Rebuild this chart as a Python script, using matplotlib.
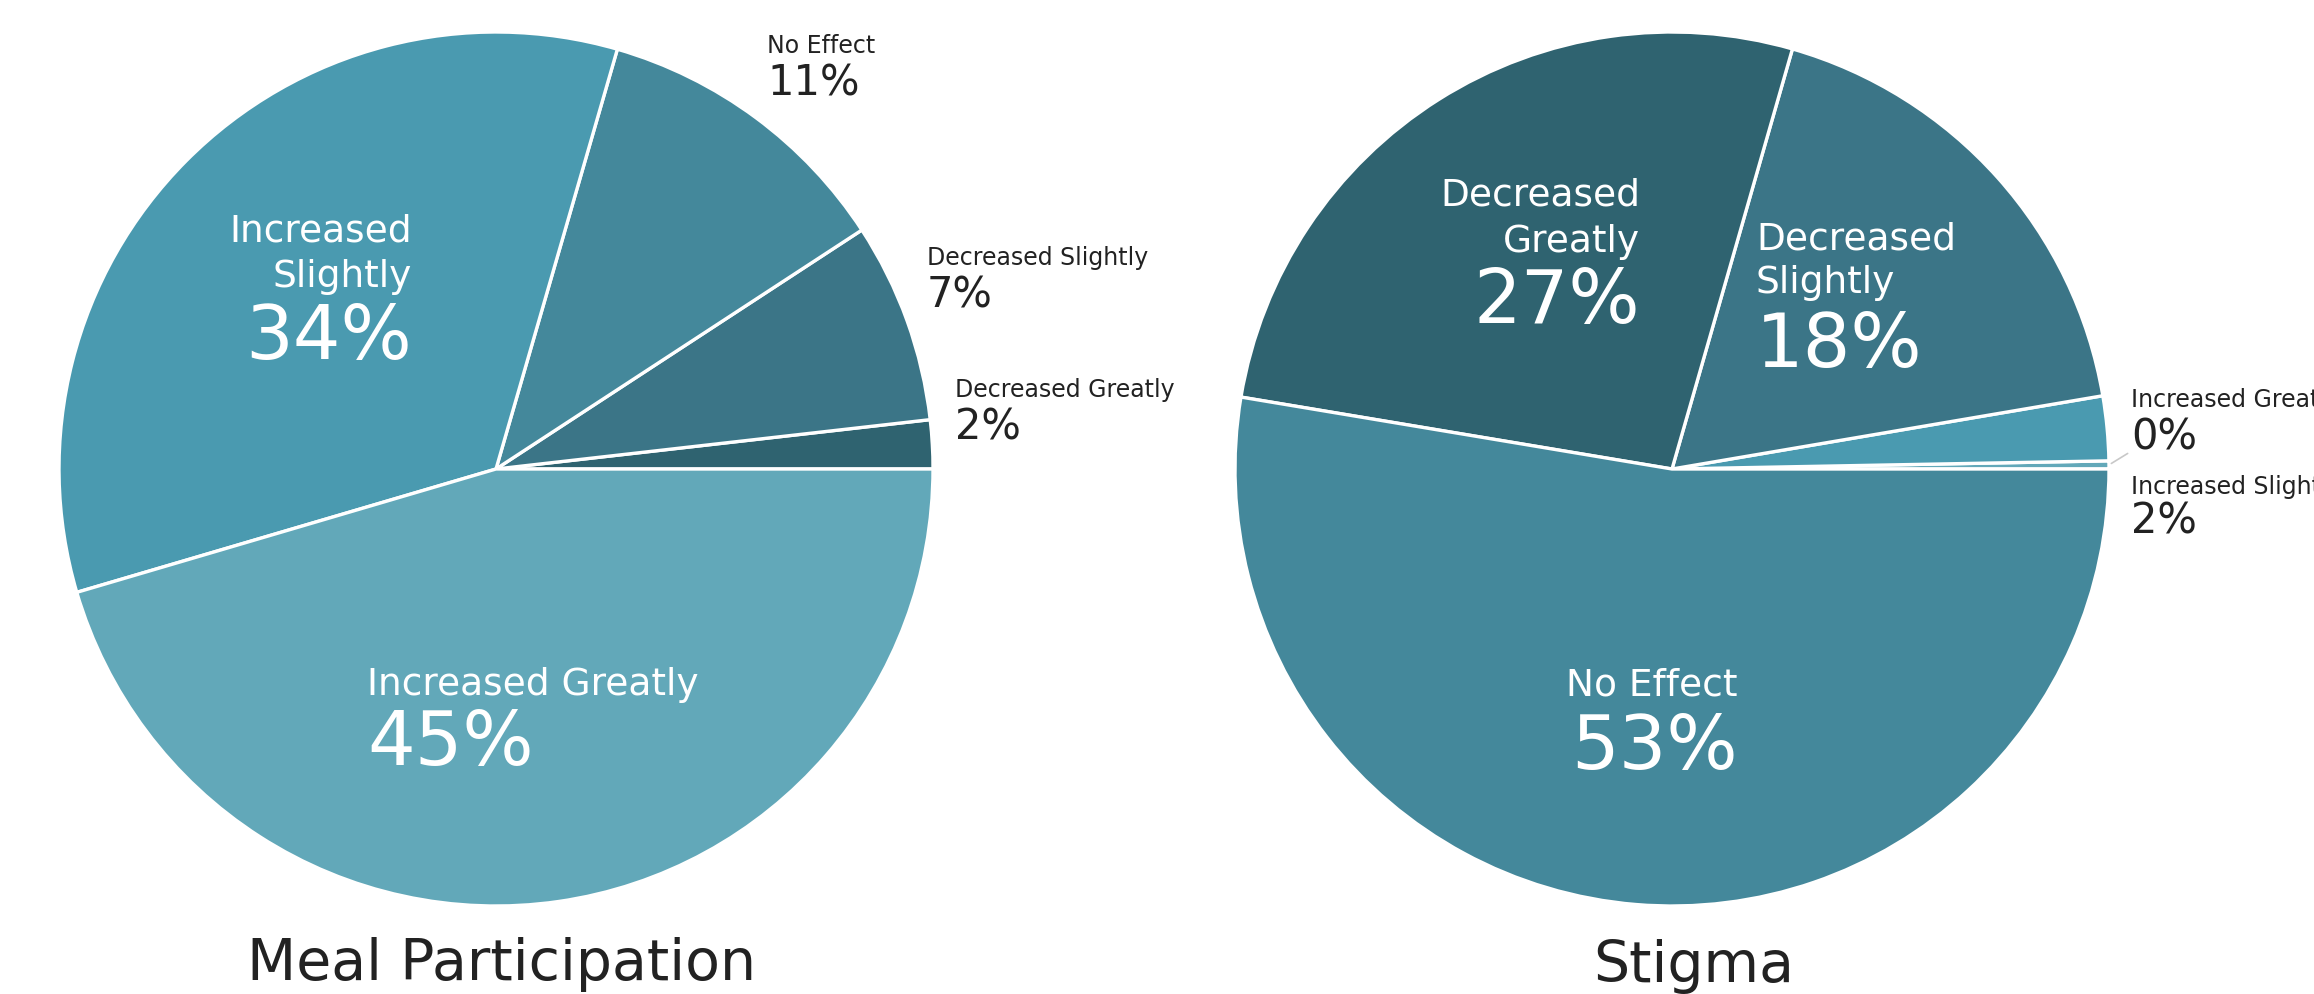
import numpy as np
import matplotlib
matplotlib.use("Agg")
import matplotlib.pyplot as plt

plt.rcParams["font.family"] = ["DejaVu Sans"]

# ── data ────────────────────────────────────────────────
meal_labels = ["Decreased Greatly", "Decreased Slightly", "No Effect",
               "Increased Slightly", "Increased Greatly"]
meal_values = [1.8, 7.4, 11.3, 34.0, 45.4]
meal_colors = ["#2f6370", "#3b7587", "#44889b", "#4a9ab0", "#62a8b9"]

stigma_labels = ["Increased Greatly", "Increased Slightly", "Decreased Slightly",
                 "Decreased Greatly", "No Effect"]
stigma_values = [0.3, 2.4, 18, 27, 53]
stigma_colors = ["#62a8b9", "#4a9ab0", "#3b7587", "#2f6370", "#44889b"]

titles = ["Meal Participation", "Stigma"]

W, H = 2314, 994
fig = plt.figure(figsize=(W / 100, H / 100), dpi=100)
ax = fig.add_axes([0, 0, 1, 1])

R = 437
centers = [(496, H - 469), (1672, H - 469)]
wp = dict(edgecolor="white", linewidth=2.4)

ax.pie(meal_values, colors=meal_colors, startangle=0, counterclock=True,
       center=centers[0], radius=R, wedgeprops=wp, frame=True)
wedges_s, _ = ax.pie(stigma_values, colors=stigma_colors, startangle=0,
                     counterclock=True, center=centers[1], radius=R,
                     wedgeprops=wp, frame=True)
ax.set_xlim(0, W)
ax.set_ylim(0, H)
ax.set_aspect("equal")
ax.axis("off")

DARK = "#222222"
SMALL, BIG = 27, 54


def pct(v):
    return f"{int(round(v))}%"


def inner(x, ys, lines, ha):
    sizes = [SMALL] * (len(lines) - 1) + [BIG]
    for y, txt, fs in zip(ys, lines, sizes):
        ax.text(x, H - y, txt, color="white", ha=ha, va="center", fontsize=fs)


def outer(x, y_lab, y_pct, label, value):
    ax.text(x, H - y_lab, label, color=DARK, ha="left", va="center", fontsize=17)
    ax.text(x, H - y_pct, pct(value), color=DARK, ha="left", va="center", fontsize=30)


# meal participation - inside labels
inner(412, [232, 277, 339], ["Increased", "Slightly", pct(meal_values[3])], "right")
inner(367, [685, 745], ["Increased Greatly", pct(meal_values[4])], "left")
# meal participation - outside labels
outer(767, 46, 83, meal_labels[2], meal_values[2])
outer(927, 258, 295, meal_labels[1], meal_values[1])
outer(955, 390, 427, meal_labels[0], meal_values[0])

# stigma - inside labels
inner(1640, [195, 242, 302], ["Decreased", "Greatly", pct(stigma_values[3])], "right")
inner(1756, [239, 283, 347], ["Decreased", "Slightly", pct(stigma_values[2])], "left")
inner(1738, [686, 748], ["No Effect", pct(stigma_values[4])], "right")
# stigma - outside labels (run off the right edge, as in the source)
outer(2131, 400, 438, stigma_labels[0], stigma_values[0])
outer(2131, 487, 522, stigma_labels[1], stigma_values[1])

# leader line for the 0% sliver
w0 = wedges_s[0]
mid = np.deg2rad((w0.theta1 + w0.theta2) / 2)
cx, cy = centers[1]
ax.annotate("", xy=(cx + R * np.cos(mid), cy + R * np.sin(mid)),
            xytext=(2130, H - 452),
            arrowprops=dict(arrowstyle="-", color="#c8c8c8", lw=1.2))

# titles
ax.text(502, H - 964, titles[0], color=DARK, ha="center", va="center", fontsize=41)
ax.text(1694, H - 967, titles[1], color=DARK, ha="center", va="center", fontsize=41)

fig.savefig("out.png", dpi=100, facecolor="white")
